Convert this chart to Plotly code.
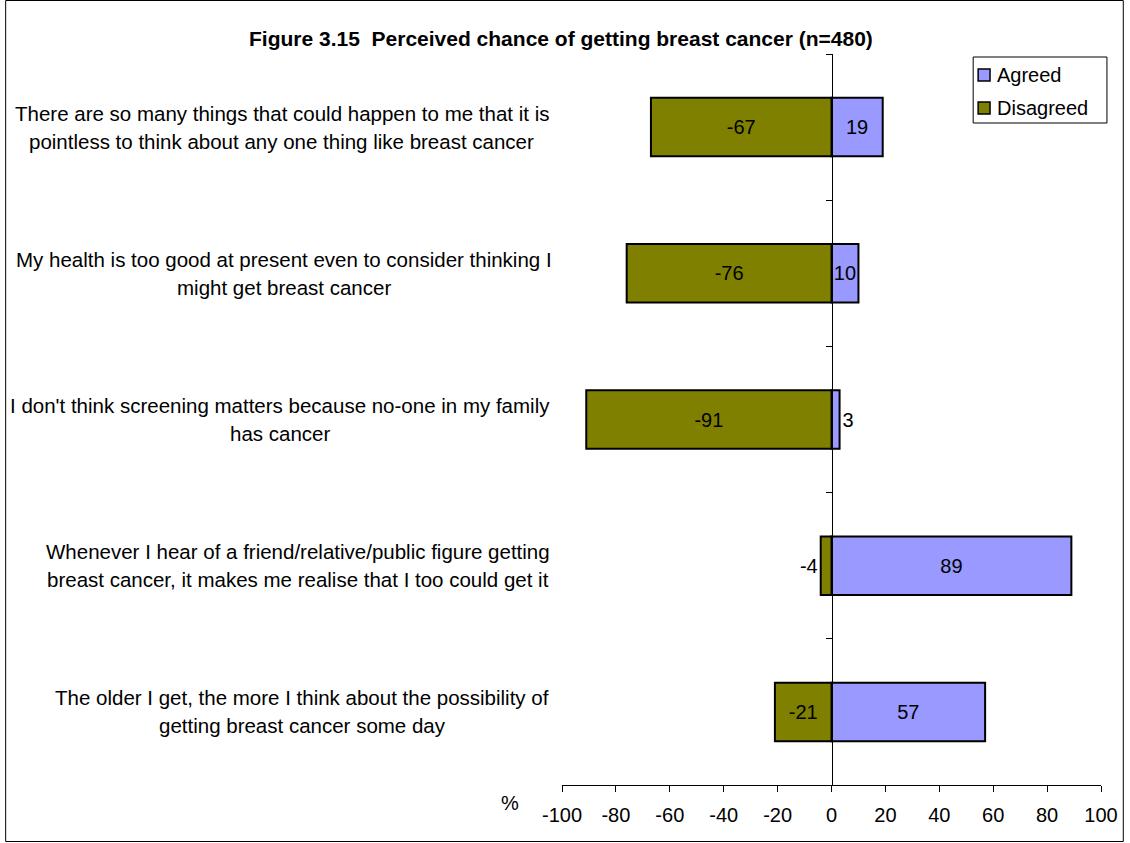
import plotly.graph_objects as go

# Survey statements (top to bottom), each split into its two display lines
statements = [
    ("There are so many things that could happen to me that it is",
     "pointless to think about any one thing like breast cancer"),
    ("My health is too good at present even to consider thinking I",
     "might get breast cancer"),
    ("I don't think screening matters because no-one in my family",
     "has cancer"),
    ("Whenever I hear of a friend/relative/public figure getting",
     "breast cancer, it makes me realise that I too could get it"),
    ("The older I get, the more I think about the possibility of",
     "getting breast cancer some day"),
]
agreed = [19, 10, 3, 89, 57]
disagreed = [-67, -76, -91, -4, -21]
x_ticks = [-100, -80, -60, -40, -20, 0, 20, 40, 60, 80, 100]

title_text = "<b>Figure 3.15  Perceived chance of getting breast cancer (n=480)</b>"
series_names = ["Agreed", "Disagreed"]
colors = {"Agreed": "#9999FF", "Disagreed": "#808000"}

# Page geometry (pixels)
W, H = 1130, 843
L, R, T, B = 562, 24, 54, 58
PW, PH = W - L - R, H - T - B
FONT = "Liberation Sans, Arial, sans-serif"
FS = 20
FS_LABEL = 20.5
FS_TITLE = 21


def xp(px):
    return (px - L) / PW


def yp(py):
    return 1 - (py - T) / PH


n = len(statements)
ypos = list(range(n))


# small bars get their label outside the bar
def label_positions(vals):
    return ["outside" if abs(v) < 5 else "inside" for v in vals]


fig = go.Figure()
for name, vals in (("Agreed", agreed), ("Disagreed", disagreed)):
    fig.add_trace(go.Bar(
        name=name,
        y=ypos,
        x=vals,
        orientation="h",
        width=0.4,
        marker=dict(color=colors[name], line=dict(color="#000000", width=2)),
        text=[str(v) for v in vals],
        textposition=label_positions(vals),
        textangle=0,
        insidetextanchor="middle",
        constraintext="none",
        textfont=dict(family=FONT, size=FS, color="#000000"),
        cliponaxis=False,
        showlegend=False,
    ))

annotations = []
shapes = []

# statement labels: two centred lines per band, block ending just left of the plot
label_centers_px = [279, 281, 277, 296, 300]
for i, (l1, l2) in enumerate(statements):
    for line, shift in ((l1, 14), (l2, -14)):
        annotations.append(dict(
            x=xp(label_centers_px[i]), xref="paper", y=i, yref="y",
            text=line, showarrow=False, xanchor="center", yanchor="middle",
            yshift=shift, font=dict(family=FONT, size=FS_LABEL, color="#000000"),
        ))

# title
annotations.append(dict(
    x=xp(561), xref="paper", y=yp(38), yref="paper", text=title_text,
    showarrow=False, xanchor="center", yanchor="middle",
    font=dict(family=FONT, size=FS_TITLE, color="#000000"),
))

# axis unit
annotations.append(dict(
    x=xp(510), xref="paper", y=yp(803), yref="paper", text="%",
    showarrow=False, xanchor="center", yanchor="middle",
    font=dict(family=FONT, size=FS, color="#000000"),
))

# legend box
shapes.append(dict(type="rect", xref="paper", yref="paper",
                   x0=xp(977), x1=xp(1112), y0=yp(57), y1=yp(123),
                   line=dict(color="#000000", width=1), fillcolor="#FFFFFF"))
for k, name in enumerate(series_names):
    cy = 75 + 33 * k
    shapes.append(dict(type="rect", xref="paper", yref="paper",
                       x0=xp(982), x1=xp(994), y0=yp(cy - 6), y1=yp(cy + 6),
                       line=dict(color="#000000", width=1.5),
                       fillcolor=colors[name]))
    annotations.append(dict(
        x=xp(999), xref="paper", y=yp(cy), yref="paper", text=name,
        showarrow=False, xanchor="left", yanchor="middle",
        font=dict(family=FONT, size=FS, color="#000000"),
    ))

# outer chart border
shapes.append(dict(type="rect", xref="paper", yref="paper",
                   x0=xp(0.5), x1=xp(W - 1.5), y0=yp(0.5), y1=yp(H - 1.5),
                   line=dict(color="#000000", width=1)))

fig.update_layout(
    width=W, height=H,
    margin=dict(l=L, r=R, t=T, b=B, pad=0),
    paper_bgcolor="#FFFFFF", plot_bgcolor="#FFFFFF",
    barmode="overlay",
    showlegend=False,
    font=dict(family=FONT, size=FS, color="#000000"),
    xaxis=dict(
        range=[-100, 100], tickvals=x_ticks, ticktext=[str(t) for t in x_ticks],
        showgrid=False, zeroline=False, showline=True, linecolor="#000000",
        linewidth=1, ticks="outside", ticklen=6, tickcolor="#000000",
        ticklabelstandoff=6,
        tickfont=dict(family=FONT, size=FS, color="#000000"),
    ),
    yaxis=dict(
        range=[n - 0.5, -0.5], anchor="free", position=0.5,
        tickvals=[i - 0.5 for i in range(n + 1)], ticktext=[""] * (n + 1),
        showgrid=False, zeroline=False, showline=True, linecolor="#000000",
        linewidth=1, ticks="outside", ticklen=6, tickcolor="#000000",
    ),
    annotations=annotations,
    shapes=shapes,
)

fig.write_html("out.html")
